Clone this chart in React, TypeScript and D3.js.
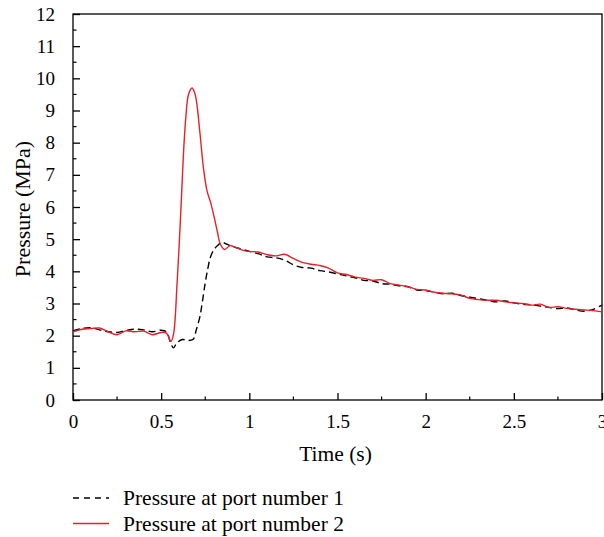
import React, { useEffect, useRef } from "react";
import * as d3 from "d3";

// Pressure at port number 1 (black dashed)
const port1Time = [
  0, 0.05, 0.1, 0.15, 0.2, 0.25, 0.3, 0.35, 0.4, 0.45, 0.5, 0.53, 0.555, 0.57, 0.59, 0.62, 0.65, 0.68,
  0.7, 0.72, 0.735, 0.75, 0.765, 0.78, 0.8, 0.82, 0.845, 0.87, 0.9, 0.95, 1.0, 1.05, 1.1, 1.15, 1.2,
  1.25, 1.3, 1.35, 1.4, 1.45, 1.5, 1.55, 1.6, 1.65, 1.7, 1.75, 1.8, 1.85, 1.9, 1.95, 2.0, 2.05, 2.1,
  2.15, 2.2, 2.25, 2.3, 2.35, 2.4, 2.45, 2.5, 2.55, 2.6, 2.65, 2.7, 2.75, 2.8, 2.85, 2.9, 2.95, 3.0,
];
const port1Pressure = [
  2.15, 2.22, 2.25, 2.18, 2.12, 2.1, 2.16, 2.2, 2.18, 2.12, 2.17, 2.12, 1.75, 1.62, 1.78, 1.88, 1.85,
  1.88, 2.2, 2.6, 3.1, 3.65, 4.1, 4.45, 4.68, 4.8, 4.9, 4.85, 4.78, 4.7, 4.62, 4.55, 4.45, 4.42, 4.35,
  4.2, 4.12, 4.1, 4.02, 3.98, 3.92, 3.86, 3.8, 3.72, 3.7, 3.62, 3.6, 3.55, 3.52, 3.42, 3.4, 3.35, 3.3,
  3.32, 3.25, 3.2, 3.15, 3.1, 3.05, 3.08, 3.02, 2.98, 2.96, 2.92, 2.88, 2.84, 2.86, 2.8, 2.76, 2.82, 2.95,
];

// Pressure at port number 2 (red solid)
const port2Time = [
  0, 0.05, 0.1, 0.15, 0.2, 0.25, 0.3, 0.35, 0.4, 0.45, 0.5, 0.53, 0.555, 0.57, 0.59, 0.61, 0.625, 0.64,
  0.655, 0.675, 0.69, 0.7, 0.72, 0.74, 0.76, 0.78, 0.8, 0.82, 0.835, 0.86, 0.89, 0.92, 0.96, 1.0, 1.05,
  1.1, 1.15, 1.2, 1.25, 1.3, 1.35, 1.4, 1.45, 1.5, 1.55, 1.6, 1.65, 1.7, 1.75, 1.8, 1.85, 1.9, 1.95, 2.0,
  2.05, 2.1, 2.15, 2.2, 2.25, 2.3, 2.35, 2.4, 2.45, 2.5, 2.55, 2.6, 2.65, 2.7, 2.75, 2.8, 2.85, 2.9,
  2.95, 3.0,
];
const port2Pressure = [
  2.12, 2.2, 2.22, 2.24, 2.12, 2.03, 2.15, 2.12, 2.14, 2.03, 2.1, 2.08, 1.82, 2.05, 3.6, 5.7, 7.5, 8.8,
  9.5, 9.7, 9.55, 9.3, 8.3, 7.2, 6.5, 6.15, 5.7, 5.2, 4.85, 4.68, 4.8, 4.75, 4.66, 4.62, 4.6, 4.52,
  4.48, 4.53, 4.4, 4.28, 4.22, 4.18, 4.1, 3.95, 3.9, 3.82, 3.78, 3.72, 3.74, 3.62, 3.57, 3.52, 3.44,
  3.42, 3.35, 3.32, 3.3, 3.26, 3.16, 3.12, 3.1, 3.1, 3.05, 3.02, 3.0, 2.95, 2.98, 2.88, 2.9, 2.85, 2.82,
  2.8, 2.78, 2.74,
];

const xTicks = [0, 0.5, 1, 1.5, 2, 2.5, 3];
const yTicks = [0, 1, 2, 3, 4, 5, 6, 7, 8, 9, 10, 11, 12];
const seriesNames = ["Pressure at port number 1", "Pressure at port number 2"];

function App() {
  const svgRef = useRef<SVGSVGElement>(null);

  useEffect(() => {
    const svg = d3.select(svgRef.current);
    const font = "'Liberation Serif', 'DejaVu Serif', serif";
    const margin = { top: 14, right: 2, bottom: 137, left: 73 };
    const width = 604;
    const height = 537;
    const innerWidth = width - margin.left - margin.right;
    const innerHeight = height - margin.top - margin.bottom;

    svg.selectAll("*").remove();

    const x = d3.scaleLinear().domain([0, 3]).range([0, innerWidth]);
    const y = d3.scaleLinear().domain([0, 12]).range([innerHeight, 0]);

    const g = svg.append("g").attr("transform", `translate(${margin.left},${margin.top})`);

    // frame
    g.append("rect")
      .attr("width", innerWidth)
      .attr("height", innerHeight)
      .attr("fill", "none")
      .attr("stroke", "#000")
      .attr("stroke-width", 1.3);

    // minor ticks
    const xMinor = d3.range(0.25, 3, 0.5);
    const yMinor = d3.range(0.5, 12, 1);
    g.selectAll(".xmin")
      .data(xMinor)
      .enter()
      .append("line")
      .attr("x1", (d) => x(d))
      .attr("x2", (d) => x(d))
      .attr("y1", innerHeight)
      .attr("y2", innerHeight - 3.5)
      .attr("stroke", "#000")
      .attr("stroke-width", 1.2);
    g.selectAll(".ymin")
      .data(yMinor)
      .enter()
      .append("line")
      .attr("x1", 0)
      .attr("x2", 3.5)
      .attr("y1", (d) => y(d))
      .attr("y2", (d) => y(d))
      .attr("stroke", "#000")
      .attr("stroke-width", 1.2);

    // x axis
    const xAxis = g
      .append("g")
      .attr("transform", `translate(0,${innerHeight})`)
      .call(d3.axisBottom(x).tickValues(xTicks).tickFormat(d3.format("")).tickSizeInner(-7).tickSizeOuter(0).tickPadding(15));
    xAxis.select(".domain").remove();
    xAxis.selectAll("line").attr("stroke-width", 1.3);
    xAxis.selectAll("text").attr("font-family", font).attr("font-size", 19).attr("fill", "#000");

    // y axis
    const yAxis = g
      .append("g")
      .call(d3.axisLeft(y).tickValues(yTicks).tickFormat(d3.format("d")).tickSizeInner(-7).tickSizeOuter(0).tickPadding(18));
    yAxis.select(".domain").remove();
    yAxis.selectAll("line").attr("stroke-width", 1.3);
    yAxis.selectAll("text").attr("font-family", font).attr("font-size", 19).attr("fill", "#000");

    const line = d3
      .line<[number, number]>()
      .x((d) => x(d[0]))
      .y((d) => y(d[1]))
      .curve(d3.curveCatmullRom.alpha(0.5));

    const p1 = port1Time.map((t, i) => [t, port1Pressure[i]] as [number, number]);
    const p2 = port2Time.map((t, i) => [t, port2Pressure[i]] as [number, number]);

    g.append("path")
      .attr("d", line(p1))
      .attr("fill", "none")
      .attr("stroke", "#000")
      .attr("stroke-width", 1.4)
      .attr("stroke-dasharray", "7,4");
    g.append("path")
      .attr("d", line(p2))
      .attr("fill", "none")
      .attr("stroke", "#e8202a")
      .attr("stroke-width", 1.4);

    // axis titles
    svg.append("text")
      .attr("x", margin.left + x(1.5) - 2)
      .attr("y", 461)
      .attr("text-anchor", "middle")
      .attr("font-family", font)
      .attr("font-size", 21.5)
      .text("Time (s)");
    svg.append("text")
      .attr("transform", `translate(30,${margin.top + y(6) + 2}) rotate(-90)`)
      .attr("text-anchor", "middle")
      .attr("font-family", font)
      .attr("font-size", 22)
      .text("Pressure (MPa)");

    // legend
    const legend = svg.append("g").attr("transform", "translate(73,498)");
    seriesNames.forEach((name, i) => {
      legend.append("line")
        .attr("x1", 0)
        .attr("x2", 36)
        .attr("y1", i * 25.5)
        .attr("y2", i * 25.5)
        .attr("stroke", i === 0 ? "#000" : "#e8202a")
        .attr("stroke-width", 1.4)
        .attr("stroke-dasharray", i === 0 ? "6,5" : null);
      legend.append("text")
        .attr("x", 50)
        .attr("y", i * 25.5 + 7)
        .attr("font-family", font)
        .attr("font-size", 21.5)
        .text(name);
    });
  }, []);

  return <svg ref={svgRef} width={604} height={537} style={{ display: "block", position: "absolute", left: 0, top: 0 }} />;
}

export default App;
